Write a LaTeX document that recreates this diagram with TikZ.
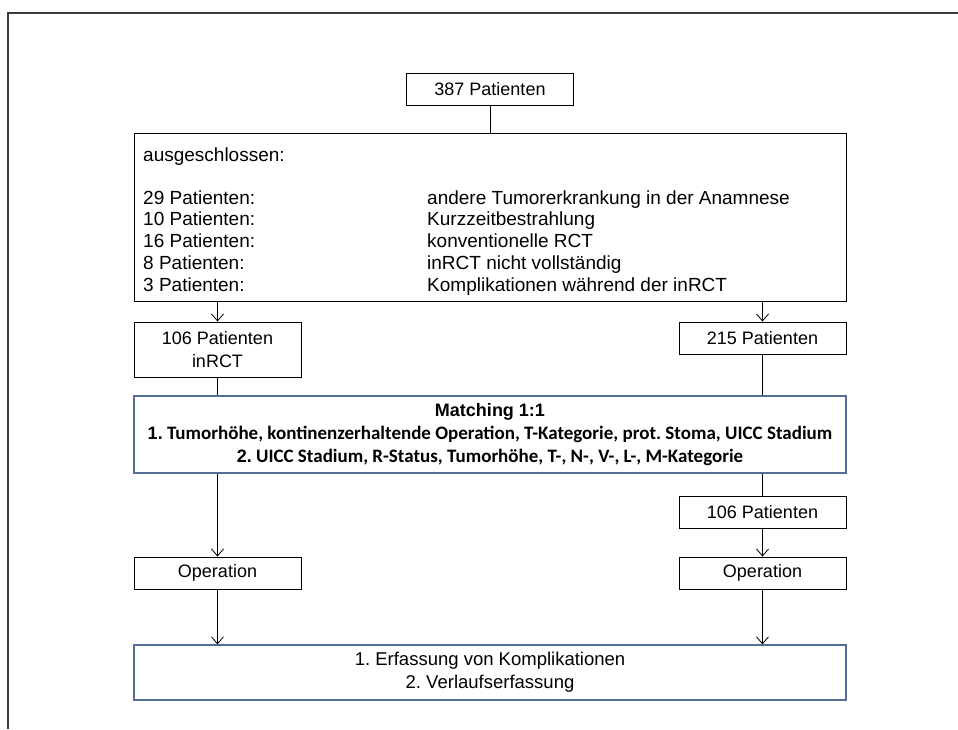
\documentclass[tikz,border=0pt]{standalone}
\usepackage{fontspec}
\setmainfont{Liberation Sans}
\newfontfamily\carlito{Carlito}
\usetikzlibrary{arrows.meta, positioning}
\definecolor{framegray}{RGB}{60,60,60}
\definecolor{matchblue}{RGB}{84,110,150}
\newcommand{\bignum}[1]{{\rmfamily\bfseries\fontsize{18}{23}\selectfont #1}}
\frenchspacing

\begin{document}
\begin{tikzpicture}[x=1pt, y=-1pt,
  box/.style={draw=black, line width=0.9pt, inner sep=0pt, align=center, font=\fontsize{18}{23}\selectfont},
  bluebox/.style={box, draw=matchblue, line width=1.2pt},
  txt/.style={inner sep=0pt, anchor=base west, font=\fontsize{19}{22}\selectfont},
  link/.style={draw=black, line width=0.8pt},
  flow/.style={link, -{Straight Barb[length=7pt, width=12pt]}}
]
  \useasboundingbox (0,0) rectangle (958,729);
  \draw[framegray, line width=1.5pt] (958,13) -- (8,13) -- (8,729);

  % boxes
  \node[box, minimum width=167, minimum height=32] (total) at (490,89) {387 Patienten};
  \node[box, minimum width=712, minimum height=168] (excl) at (490,217) {};
  \node[box, minimum width=167, minimum height=55] (inrct) at (217.5,349.5) {106 Patienten\\ inRCT};
  \node[box, minimum width=167, minimum height=32] (p215) at (762.5,338) {215 Patienten};
  \node[bluebox, minimum width=712, minimum height=77, font=\carlito\bfseries\fontsize{19}{23}\selectfont] (match) at (490,434.5) {
    \bignum{Matching 1:1}\\
    \bignum{1.} Tumorhöhe, kontinenzerhaltende Operation, T-Kategorie, prot. Stoma, UICC Stadium\\
    \bignum{2.} UICC Stadium, R-Status, Tumorhöhe, T-, N-, V-, L-, M-Kategorie
  };
  \node[box, minimum width=167, minimum height=32] (p106) at (762.5,512) {106 Patienten};
  \node[box, minimum width=167, minimum height=32] (opL) at (217.5,573) {Operation};
  \node[box, minimum width=167, minimum height=32] (opR) at (762.5,573) {Operation};
  \node[bluebox, minimum width=712, minimum height=55, font=\fontsize{18.5}{23}\selectfont] (final) at (490,672.5) {
    1. Erfassung von Komplikationen\\
    2. Verlaufserfassung
  };

  % exclusion list
  \node[txt] (exhead) at (143,161) {ausgeschlossen:};
  \foreach \n/\reason [count=\i] in {29/andere Tumorerkrankung in der Anamnese,
      10/Kurzzeitbestrahlung, 16/konventionelle RCT,
      8/inRCT nicht vollständig, 3/Komplikationen während der inRCT} {
    \node[txt] (num\i) at (143,{182.2+21.8*\i}) {\n\ Patienten:};
    \node[txt] (why\i) at (427,{182.2+21.8*\i}) {\reason};
  }

  % connectors
  \draw[link] (total) -- (excl);
  \draw[flow] (excl.south -| inrct.north) -- (inrct.north);
  \draw[flow] (excl.south -| p215.north) -- (p215.north);
  \draw[link] (inrct.south) -- (inrct.south |- match.north);
  \draw[link] (p215.south) -- (p215.south |- match.north);
  \draw[link] (match.south -| p106.north) -- (p106.north);
  \draw[flow] (p106) -- (opR);
  \draw[flow] (match.south -| opL.north) -- (opL.north);
  \draw[flow] (opL.south) -- (opL.south |- final.north);
  \draw[flow] (opR.south) -- (opR.south |- final.north);
\end{tikzpicture}
\end{document}
